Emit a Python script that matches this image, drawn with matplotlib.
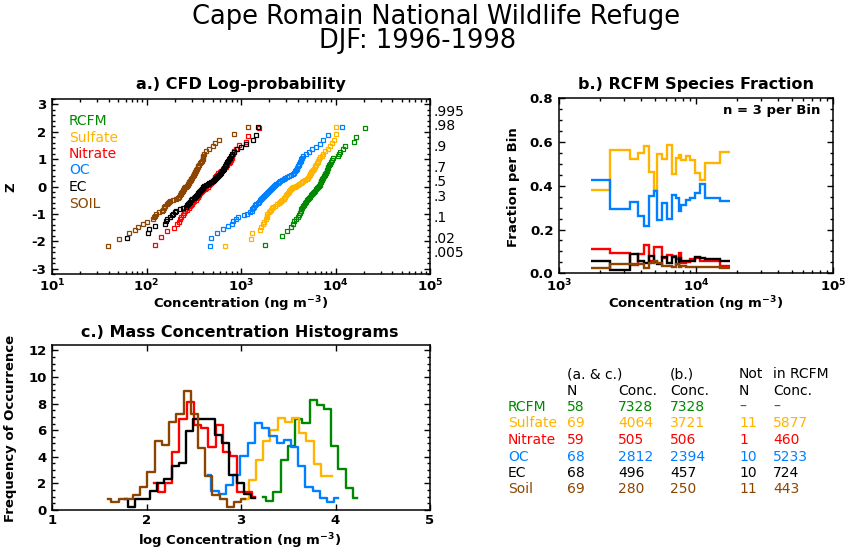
import numpy as np
import matplotlib
matplotlib.use("Agg")
import matplotlib.pyplot as plt
import matplotlib.transforms as mtransforms
from matplotlib.ticker import (FixedLocator, MultipleLocator, FuncFormatter,
                               LogLocator, NullFormatter, FormatStrFormatter)
from statistics import NormalDist

species = ["RCFM", "Sulfate", "Nitrate", "OC", "EC", "Soil"]
colors = ["#008800", "#FFB400", "#FF0000", "#0080FF", "#000000", "#8B4500"]
n_total = [58, 69, 59, 68, 68, 69]

# a.) sorted log10 concentrations (ng m-3); lowest EC value not plotted
cfd_rcfm = [3.25, 3.43, 3.49, 3.53, 3.55, 3.56, 3.58, 3.60, 3.61, 3.625,
            3.63, 3.64, 3.65, 3.66, 3.67, 3.68, 3.69, 3.70, 3.71, 3.72,
            3.73, 3.74, 3.75, 3.76, 3.77, 3.78, 3.79, 3.80, 3.81, 3.83,
            3.835, 3.84, 3.845, 3.85, 3.855, 3.86, 3.87, 3.88, 3.885, 3.89,
            3.90, 3.905, 3.91, 3.92, 3.925, 3.93, 3.94, 3.95, 3.96, 3.97,
            4.03, 4.04, 4.05, 4.08, 4.10, 4.20, 4.22, 4.31]
cfd_sulfate = [2.83, 3.11, 3.12, 3.20, 3.21, 3.23, 3.24, 3.26, 3.27, 3.275,
               3.28, 3.30, 3.31, 3.32, 3.33, 3.34, 3.36, 3.38, 3.40, 3.41,
               3.42, 3.43, 3.45, 3.46, 3.47, 3.48, 3.49, 3.50, 3.505, 3.51,
               3.52, 3.53, 3.54, 3.555, 3.57, 3.585, 3.60, 3.615, 3.63, 3.645,
               3.66, 3.68, 3.70, 3.71, 3.72, 3.73, 3.735, 3.74, 3.745, 3.75,
               3.76, 3.77, 3.78, 3.785, 3.79, 3.80, 3.81, 3.82, 3.83, 3.84,
               3.86, 3.87, 3.89, 3.92, 3.945, 3.96, 3.98, 4.0, 4.01]
cfd_nitrate = [2.09, 2.15, 2.22, 2.29, 2.32, 2.34, 2.355, 2.37, 2.39, 2.40,
               2.41, 2.43, 2.45, 2.46, 2.47, 2.48, 2.49, 2.50, 2.52, 2.53,
               2.54, 2.55, 2.56, 2.57, 2.58, 2.59, 2.60, 2.62, 2.63, 2.65,
               2.66, 2.67, 2.68, 2.69, 2.70, 2.71, 2.72, 2.73, 2.74, 2.75,
               2.76, 2.78, 2.79, 2.81, 2.82, 2.84, 2.85, 2.87, 2.88, 2.89,
               2.90, 2.91, 2.92, 2.93, 2.95, 2.98, 3.05, 3.07, 3.19]
cfd_oc = [2.67, 2.68, 2.75, 2.81, 2.86, 2.90, 2.92, 2.95, 2.97, 3.03,
          3.06, 3.10, 3.12, 3.12, 3.13, 3.14, 3.15, 3.16, 3.175, 3.19,
          3.20, 3.21, 3.22, 3.235, 3.245, 3.255, 3.265, 3.275, 3.285, 3.295,
          3.305, 3.315, 3.325, 3.335, 3.345, 3.36, 3.375, 3.39, 3.40, 3.415,
          3.43, 3.45, 3.47, 3.49, 3.51, 3.53, 3.55, 3.565, 3.575, 3.585,
          3.59, 3.595, 3.60, 3.61, 3.615, 3.62, 3.63, 3.64, 3.65, 3.66,
          3.69, 3.72, 3.75, 3.79, 3.84, 3.87, 3.92, 4.07]
cfd_ec = [1.79, 2.02, 2.03, 2.09, 2.20, 2.21, 2.22, 2.25, 2.27,
          2.28, 2.30, 2.31, 2.35, 2.39, 2.42, 2.43, 2.44, 2.45, 2.46,
          2.47, 2.48, 2.50, 2.51, 2.52, 2.53, 2.54, 2.55, 2.56, 2.57,
          2.58, 2.59, 2.595, 2.60, 2.61, 2.63, 2.65, 2.66, 2.68, 2.70,
          2.71, 2.73, 2.74, 2.75, 2.76, 2.77, 2.78, 2.79, 2.80, 2.81,
          2.815, 2.82, 2.83, 2.84, 2.845, 2.85, 2.86, 2.87, 2.88, 2.89,
          2.90, 2.93, 2.96, 3.00, 3.05, 3.13, 3.16, 3.18]
cfd_soil = [1.59, 1.71, 1.82, 1.88, 1.91, 1.96, 2.00, 2.07, 2.08, 2.09,
            2.10, 2.13, 2.16, 2.17, 2.18, 2.19, 2.20, 2.22, 2.23, 2.24,
            2.25, 2.28, 2.31, 2.33, 2.34, 2.35, 2.36, 2.37, 2.38, 2.385,
            2.39, 2.395, 2.40, 2.41, 2.42, 2.43, 2.435, 2.44, 2.45, 2.455,
            2.46, 2.47, 2.475, 2.48, 2.49, 2.50, 2.50, 2.51, 2.515, 2.52,
            2.525, 2.53, 2.54, 2.55, 2.56, 2.57, 2.58, 2.59, 2.595, 2.60,
            2.60, 2.61, 2.63, 2.66, 2.70, 2.72, 2.77, 2.93, 3.07]
cfd_all = [cfd_rcfm, cfd_sulfate, cfd_nitrate, cfd_oc, cfd_ec, cfd_soil]

prob_labels = [".995", ".98", ".9", ".7", ".5", ".3", ".1", ".02", ".005"]
prob_values = [0.995, 0.98, 0.9, 0.7, 0.5, 0.3, 0.1, 0.02, 0.005]

# b.) species fraction of RCFM, 3 samples per bin (log10 bin edges)
frac_edges = [3.231, 3.375, 3.521, 3.577, 3.618, 3.655, 3.691, 3.718, 3.755, 3.788,
              3.825, 3.857, 3.876, 3.893, 3.925, 3.954, 3.991, 4.027, 4.069, 4.173, 4.246]
frac_sulfate = [0.379, 0.562, 0.524, 0.55, 0.584, 0.463, 0.382, 0.547, 0.523, 0.585,
                0.455, 0.527, 0.543, 0.517, 0.535, 0.517, 0.459, 0.425, 0.505, 0.553]
frac_nitrate = [0.113, 0.092, 0.038, 0.09, 0.130, 0.058, 0.122, 0.119, 0.069, 0.084,
                0.079, 0.064, 0.095, 0.046, 0.053, 0.064, 0.069, 0.058, 0.058, 0.033]
frac_oc = [0.425, 0.293, 0.324, 0.263, 0.214, 0.355, 0.374, 0.245, 0.321, 0.248,
           0.359, 0.344, 0.287, 0.313, 0.336, 0.344, 0.367, 0.41, 0.344, 0.329]
frac_ec = [0.058, 0.015, 0.09, 0.058, 0.046, 0.079, 0.053, 0.043, 0.075, 0.049,
           0.075, 0.043, 0.072, 0.058, 0.058, 0.058, 0.075, 0.069, 0.064, 0.058]
frac_soil = [0.023, 0.041, 0.041, 0.041, 0.026, 0.046, 0.058, 0.046, 0.033, 0.033,
             0.03, 0.041, 0.03, 0.033, 0.03, 0.03, 0.03, 0.03, 0.03, 0.026]
frac_all = [frac_sulfate, frac_nitrate, frac_oc, frac_ec, frac_soil]

# c.) histograms of log concentration (first bin centre, frequency per bin)
hist_width = 0.0765
hist_start = [3.228, 3.042, 2.081, 2.649, 1.768, 1.589]
hist_rcfm = [1.0, 0.64, 1.38, 3.76, 4.8, 6.84, 6.57, 8.27, 7.89, 7.57, 4.81, 3.09, 1.68, 0.88]
hist_sulfate = [0.82, 2.26, 3.76, 5.19, 6.02, 6.94, 6.64, 6.94, 5.76, 5.19, 3.46, 2.58, 2.58]
hist_nitrate = [2.05, 1.38, 2.05, 4.39, 6.82, 8.15, 6.39, 6.14, 4.76, 6.39, 4.39, 4.09, 1.38, 1.38, 1.0]
hist_oc = [2.63, 1.43, 1.18, 1.88, 2.63, 4.09, 5.01, 6.52, 6.19, 5.59, 5.01, 5.26, 4.76,
           3.32, 1.75, 1.43, 0.88, 0.57, 0.88]
hist_ec = [0.82, 0.25, 0.82, 0.82, 1.43, 2.0, 2.33, 3.27, 3.56, 5.94, 6.84, 6.84, 6.84,
           5.64, 5.01, 2.63, 2.0, 1.18, 0.88]
hist_soil = [0.82, 0.57, 0.82, 0.82, 1.13, 1.75, 2.88, 5.19, 4.89, 6.64, 7.22, 8.97, 7.22,
             4.64, 2.58, 1.13, 0.82, 0.25, 0.57, 0.82]
hist_all = [hist_rcfm, hist_sulfate, hist_nitrate, hist_oc, hist_ec, hist_soil]

# summary table
table_names = ["RCFM", "Sulfate", "Nitrate", "OC", "EC", "Soil"]
table_n = ["58", "69", "59", "68", "68", "69"]
table_conc_ac = ["7328", "4064", "505", "2812", "496", "280"]
table_conc_b = ["7328", "3721", "506", "2394", "457", "250"]
table_n_not = ["\u2013", "11", "1", "10", "10", "11"]
table_conc_not = ["\u2013", "5877", "460", "5233", "724", "443"]

plt.rcParams["font.family"] = "DejaVu Sans"
plt.rcParams["font.weight"] = "bold"
plt.rcParams["axes.linewidth"] = 1.1

W, H = 860, 550
fig = plt.figure(figsize=(8.6, 5.5), dpi=100)


def px(x, y):
    return x / W, 1 - y / H


def style_axes(ax):
    ax.tick_params(which="both", direction="in", top=True, right=True,
                   labelsize=9.5, width=1, pad=4)
    ax.tick_params(which="major", length=4.5)
    ax.tick_params(which="minor", length=2.3)
    ax.tick_params(axis="x", pad=3)


def log_labels(ax, decades):
    ax.xaxis.set_major_locator(FixedLocator([10.0 ** d for d in decades]))
    ax.xaxis.set_minor_locator(LogLocator(base=10, subs=range(2, 10)))
    ax.xaxis.set_minor_formatter(NullFormatter())
    ax.xaxis.set_major_formatter(FuncFormatter(
        lambda v, p: r"$\mathbf{10^{%d}}$" % int(round(np.log10(v)))))


conc_label = r"Concentration (ng m$^{\mathbf{-3}}$)"

# ---- a.) CFD log-probability
ax_a = fig.add_axes([52 / W, 1 - 274 / H, 378 / W, 175 / H])
nd = NormalDist()
for vals, n, c in zip(cfd_all, n_total, colors):
    n = max(n, len(vals))
    ranks = np.arange(n - len(vals) + 1, n + 1)
    z = [nd.inv_cdf(r / (n + 1)) for r in ranks]
    ax_a.plot(10 ** np.array(vals), z, "s", mfc="none", mec=c, ms=3.4, mew=0.9)
ax_a.set_xscale("log")
ax_a.set_xlim(10, 1e5)
ax_a.set_ylim(-3.2, 3.2)
log_labels(ax_a, [1, 2, 3, 4, 5])
ax_a.yaxis.set_major_locator(MultipleLocator(1))
ax_a.yaxis.set_minor_locator(MultipleLocator(0.2))
ax_a.yaxis.set_major_formatter(FormatStrFormatter("%d"))
style_axes(ax_a)
trans = mtransforms.blended_transform_factory(ax_a.transAxes, ax_a.transData)
for lab, p in zip(prob_labels, prob_values):
    ax_a.text(1.008, nd.inv_cdf(p), lab, transform=trans, ha="left",
              va="baseline", fontsize=10, fontweight="normal")
legend_y = [121, 138, 154, 170, 187, 204]
for name, c, y in zip(["RCFM", "Sulfate", "Nitrate", "OC", "EC", "SOIL"], colors, legend_y):
    fig.text(*px(69, y), name, color=c, fontsize=10, fontweight="normal",
             ha="left", va="center")

# ---- b.) RCFM species fraction
ax_b = fig.add_axes([559 / W, 1 - 273.3 / H, 274 / W, 175 / H])
edges = 10 ** np.array(frac_edges)
for vals, c in zip(frac_all, colors[1:]):
    ax_b.stairs(vals, edges, baseline=None, color=c, lw=1.7)
ax_b.set_xscale("log")
ax_b.set_xlim(1e3, 1e5)
ax_b.set_ylim(0, 0.8)
log_labels(ax_b, [3, 4, 5])
ax_b.yaxis.set_major_locator(MultipleLocator(0.2))
ax_b.yaxis.set_minor_locator(MultipleLocator(0.05))
ax_b.yaxis.set_major_formatter(FormatStrFormatter("%.1f"))
style_axes(ax_b)
ax_b.text(0.955, 0.929, "n = 3 per Bin", transform=ax_b.transAxes,
          ha="right", va="center", fontsize=9.5)

# ---- c.) mass concentration histograms
ax_c = fig.add_axes([52 / W, 1 - 510 / H, 378 / W, 165 / H])
for vals, x0, c in zip(hist_all, hist_start, colors):
    centers = x0 + hist_width * np.arange(len(vals))
    ax_c.step(centers, vals, where="mid", color=c, lw=1.7)
ax_c.set_xlim(1, 5)
ax_c.set_ylim(0, 12.4)
ax_c.xaxis.set_major_locator(MultipleLocator(1))
ax_c.yaxis.set_major_locator(MultipleLocator(2))
ax_c.yaxis.set_minor_locator(MultipleLocator(0.5))
ax_c.xaxis.set_major_formatter(FormatStrFormatter("%d"))
ax_c.yaxis.set_major_formatter(FormatStrFormatter("%d"))
style_axes(ax_c)

# ---- titles and axis labels
fig.text(*px(436, 17), "Cape Romain National Wildlife Refuge", ha="center",
         va="center", fontsize=18.5, fontweight="normal")
fig.text(*px(418, 41), "DJF: 1996-1998", ha="center", va="center",
         fontsize=18.5, fontweight="normal")
fig.text(*px(241, 84), "a.) CFD Log-probability", ha="center", va="center", fontsize=11.5)
fig.text(*px(696, 85), "b.) RCFM Species Fraction", ha="center", va="center", fontsize=11.5)
fig.text(*px(240, 333), "c.) Mass Concentration Histograms", ha="center", va="center",
         fontsize=11.5)
fig.text(*px(241, 304), conc_label, ha="center", va="center", fontsize=9.5)
fig.text(*px(696, 304), conc_label, ha="center", va="center", fontsize=9.5)
fig.text(*px(240, 541), "log " + conc_label, ha="center", va="center", fontsize=9.5)
fig.text(*px(11, 187), "Z", ha="center", va="center", rotation=90, fontsize=9.5)
fig.text(*px(513, 187), "Fraction per Bin", ha="center", va="center", rotation=90,
         fontsize=9.5)
fig.text(*px(11, 428), "Frequency of Occurrence", ha="center", va="center",
         rotation=90, fontsize=9.5)

# ---- table
col_x = [508, 567, 618, 670, 739, 773]
row_y = [407, 423, 440, 457, 473, 489]
tkw = dict(ha="left", va="center", fontsize=10, fontweight="normal")
fig.text(*px(567, 374), "(a. & c.)", **tkw)
fig.text(*px(670, 374), "(b.)", **tkw)
fig.text(*px(739, 374), "Not", **tkw)
fig.text(*px(773, 374), "in RCFM", **tkw)
for x, lab in zip(col_x[1:], ["N", "Conc.", "Conc.", "N", "Conc."]):
    fig.text(*px(x, 391), lab, **tkw)
for i, c in enumerate(colors):
    row = [table_names[i], table_n[i], table_conc_ac[i], table_conc_b[i],
           table_n_not[i], table_conc_not[i]]
    for x, lab in zip(col_x, row):
        fig.text(*px(x, row_y[i]), lab, color=c, **tkw)

fig.savefig("out.png", dpi=100)
